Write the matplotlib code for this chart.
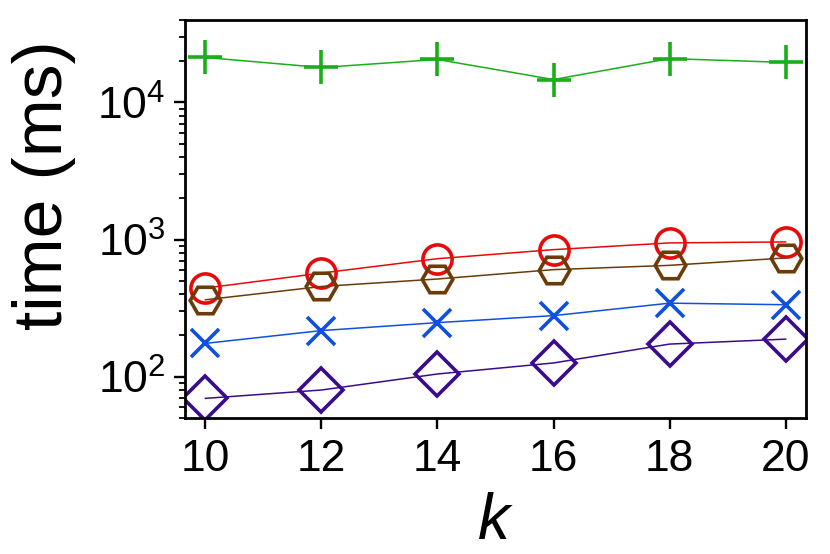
import matplotlib
matplotlib.use("Agg")
import matplotlib.pyplot as plt

# --- data ---
k_values = [10, 12, 14, 16, 18, 20]
green_plus = [21300, 18000, 20600, 14700, 20900, 19600]
red_circle = [443, 570, 726, 845, 946, 962]
brown_hex = [364, 455, 516, 604, 649, 735]
blue_x = [175, 217, 248, 279, 344, 335]
purple_diamond = [69.5, 80, 104.7, 126, 173, 188]

family = "Liberation Sans"
plt.rcParams["font.family"] = [family, "DejaVu Sans"]
plt.rcParams["mathtext.fontset"] = "custom"
plt.rcParams["mathtext.rm"] = family
plt.rcParams["mathtext.it"] = family + ":italic"

fig = plt.figure(figsize=(8.3, 5.54), dpi=100)
ax = fig.add_axes([0.223, 0.2455, 0.748, 0.7185])

series = [
    (green_plus, "#1aaf1a", "+", 24),
    (red_circle, "#e80a0a", "o", 21),
    (brown_hex, "#6b3c08", "H", 22),
    (blue_x, "#0f50e0", "x", 20),
    (purple_diamond, "#3a0c8c", "D", 22),
]
for vals, col, mk, ms in series:
    ax.plot(k_values, vals, color=col, lw=1.1, marker=mk, ms=ms,
            mfc="none", mec=col, mew=2.6)

ax.set_yscale("log")
ax.set_ylim(50, 40000)
ax.set_xlim(9.65, 20.35)
ax.set_xticks(k_values)

for s in ax.spines.values():
    s.set_linewidth(2.0)
ax.tick_params(which="major", length=8, width=1.7, labelsize=32, direction="out")
ax.tick_params(which="minor", length=4.5, width=1.3, direction="out")
ax.tick_params(axis="y", which="major", pad=6)
ax.tick_params(axis="x", which="major", pad=7)

ax.set_xlabel("$k$", fontsize=46, labelpad=9)
ax.set_ylabel("time (ms)", fontsize=50)
ax.yaxis.set_label_coords(-0.175, 0.585)

fig.savefig("out.png", dpi=100, facecolor="white")
